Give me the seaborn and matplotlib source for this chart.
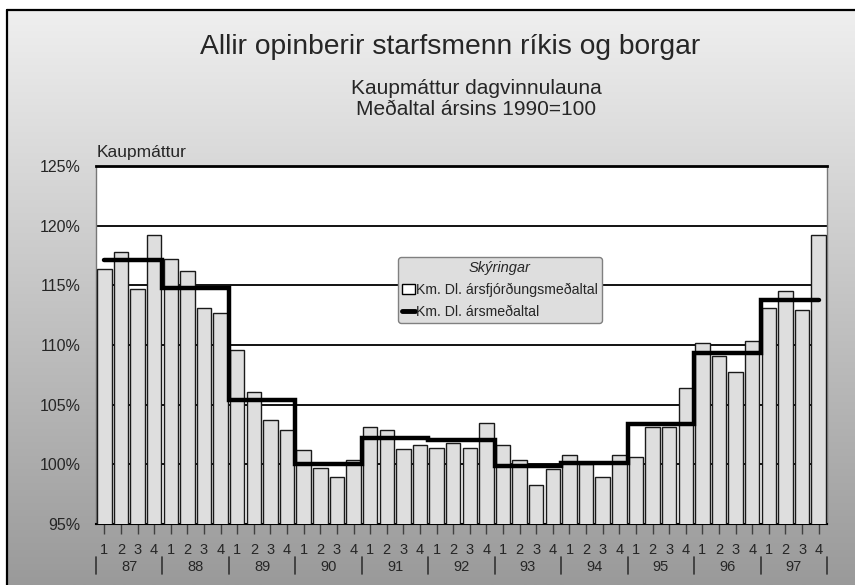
import numpy as np
import pandas as pd
import matplotlib
matplotlib.use("Agg")
import matplotlib.pyplot as plt
import seaborn as sns
from matplotlib.colors import LinearSegmentedColormap
from matplotlib.patches import Patch
from matplotlib.lines import Line2D
import matplotlib.transforms as mtransforms

# ---- data ----
years = ["87", "88", "89", "90", "91", "92", "93", "94", "95", "96", "97"]
quarters = ["1", "2", "3", "4"]
quarterly = [
    116.4, 117.8, 114.7, 119.2,   # 87
    117.2, 116.2, 113.1, 112.7,   # 88
    109.6, 106.1, 103.7, 102.9,   # 89
    101.2, 99.7, 98.9, 100.4,     # 90
    103.1, 102.9, 101.3, 101.6,   # 91
    101.4, 101.8, 101.4, 103.5,   # 92
    101.6, 100.4, 98.3, 99.6,     # 93
    100.8, 100.0, 98.9, 100.8,    # 94
    100.6, 103.1, 103.1, 106.4,   # 95
    110.2, 109.1, 107.7, 110.3,   # 96
    113.1, 114.5, 112.9, 119.2,   # 97
]
annual = [117.1, 114.8, 105.4, 100.0, 102.2, 102.0, 99.9, 100.1, 103.4, 109.3, 113.8]
yticks = [95, 100, 105, 110, 115, 120, 125]

title = "Allir opinberir starfsmenn ríkis og borgar"
subtitle = "Kaupmáttur dagvinnulauna\nMeðaltal ársins 1990=100"
ylabel = "Kaupmáttur"
legend_title = "Skýringar"
label_q = "Km. Dl. ársfjórðungsmeðaltal"
label_y = "Km. Dl. ársmeðaltal"

df = pd.DataFrame({
    "key": [f"{y}-{q}" for y in years for q in quarters],
    "quarter": [q for y in years for q in quarters],
    "value": quarterly,
})
annual_q = np.repeat(annual, len(quarters))

sns.set_theme(style="white")
plt.rcParams["font.family"] = ["Liberation Sans", "DejaVu Sans"]

W, H = 855, 585
fig = plt.figure(figsize=(W / 100, H / 100), dpi=100)
fig.patch.set_facecolor("white")

# background gradient inside border
bg = fig.add_axes([7 / W, 0, 1 - 7 / W, 1 - 10 / H], zorder=-10)
cmap = LinearSegmentedColormap.from_list("g", ["#efefef", "#9a9a9a"])
grad = np.linspace(0, 1, 256).reshape(-1, 1)
bg.imshow(grad, aspect="auto", cmap=cmap, vmin=0, vmax=1, extent=[0, 1, 0, 1])
bg.set_axis_off()
fig.add_artist(Line2D([7 / W, 1], [1 - 10 / H, 1 - 10 / H], transform=fig.transFigure, color="black", lw=1.6))
fig.add_artist(Line2D([7 / W, 7 / W], [0, 1 - 10 / H], transform=fig.transFigure, color="black", lw=1.6))

ax = fig.add_axes([96 / W, 1 - 524 / H, (827 - 96) / W, (524 - 166) / H])
ax.set_facecolor("white")

sns.barplot(data=df, x="key", y="value", ax=ax, color="#dedede", width=0.87,
            edgecolor="#1a1a1a", linewidth=1.0, saturation=1, zorder=3)
xs = np.arange(len(df))
ax.step(xs, annual_q, where="mid", color="black", lw=3.2, zorder=4,
        solid_capstyle="round", solid_joinstyle="miter")

ax.set_ylim(95, 125)
ax.set_xlim(-0.5, len(df) - 0.5)
for v in yticks[1:-1]:
    ax.axhline(v, color="black", lw=1.3, zorder=1)
ax.set_yticks(yticks)
ax.set_yticklabels([f"{v}%" for v in yticks], fontsize=11.5)
ax.tick_params(axis="y", length=0, pad=11)
ax.set_xticks(xs)
ax.set_xticklabels(df["quarter"], fontsize=10.5)
ax.tick_params(axis="x", bottom=True, length=7.5, width=1, color="#404040", pad=6, direction="out")
ax.set_xlabel("")
ax.set_ylabel("")

for side in ["left", "right"]:
    ax.spines[side].set_color("#777777")
    ax.spines[side].set_linewidth(1.0)
ax.spines["top"].set_color("black")
ax.spines["top"].set_linewidth(2.0)
ax.spines["bottom"].set_color("black")
ax.spines["bottom"].set_linewidth(1.5)

trans = mtransforms.blended_transform_factory(ax.transData, ax.transAxes)
for i, y in enumerate(years):
    c = i * 4 + 1.5
    ax.text(c, -0.12, y, transform=trans, ha="center", va="center", fontsize=10.5)
for k in range(len(years) + 1):
    xb = k * 4 - 0.5
    ax.add_line(Line2D([xb, xb], [-0.092, -0.14], transform=trans, color="#333333",
                       lw=1.2, clip_on=False))

fig.text(450 / W, 1 - 47 / H, title, ha="center", va="center", fontsize=20.3)
fig.text(476 / W, 1 - 99 / H, subtitle, ha="center", va="center", fontsize=15,
         linespacing=1.15)
fig.text(97 / W, 1 - 157 / H, ylabel, ha="left", va="baseline", fontsize=12.5)

handles = [
    Patch(facecolor="white", edgecolor="black", linewidth=1.0, label=label_q),
    Line2D([0], [0], color="black", lw=3.5, label=label_y),
]
leg = fig.legend(handles=handles, loc="center", bbox_to_anchor=(500 / W, 1 - 290 / H),
                 title=legend_title, fontsize=10.2, title_fontproperties={"style": "italic", "size": 10.5},
                 frameon=True, fancybox=True, framealpha=1, facecolor="#dedede",
                 edgecolor="#808080", handlelength=0.9, handleheight=0.7, handletextpad=0.1,
                 labelspacing=0.55, borderpad=0.3, borderaxespad=0)
leg.get_frame().set_linewidth(1.0)

fig.savefig("out.png", dpi=100)
